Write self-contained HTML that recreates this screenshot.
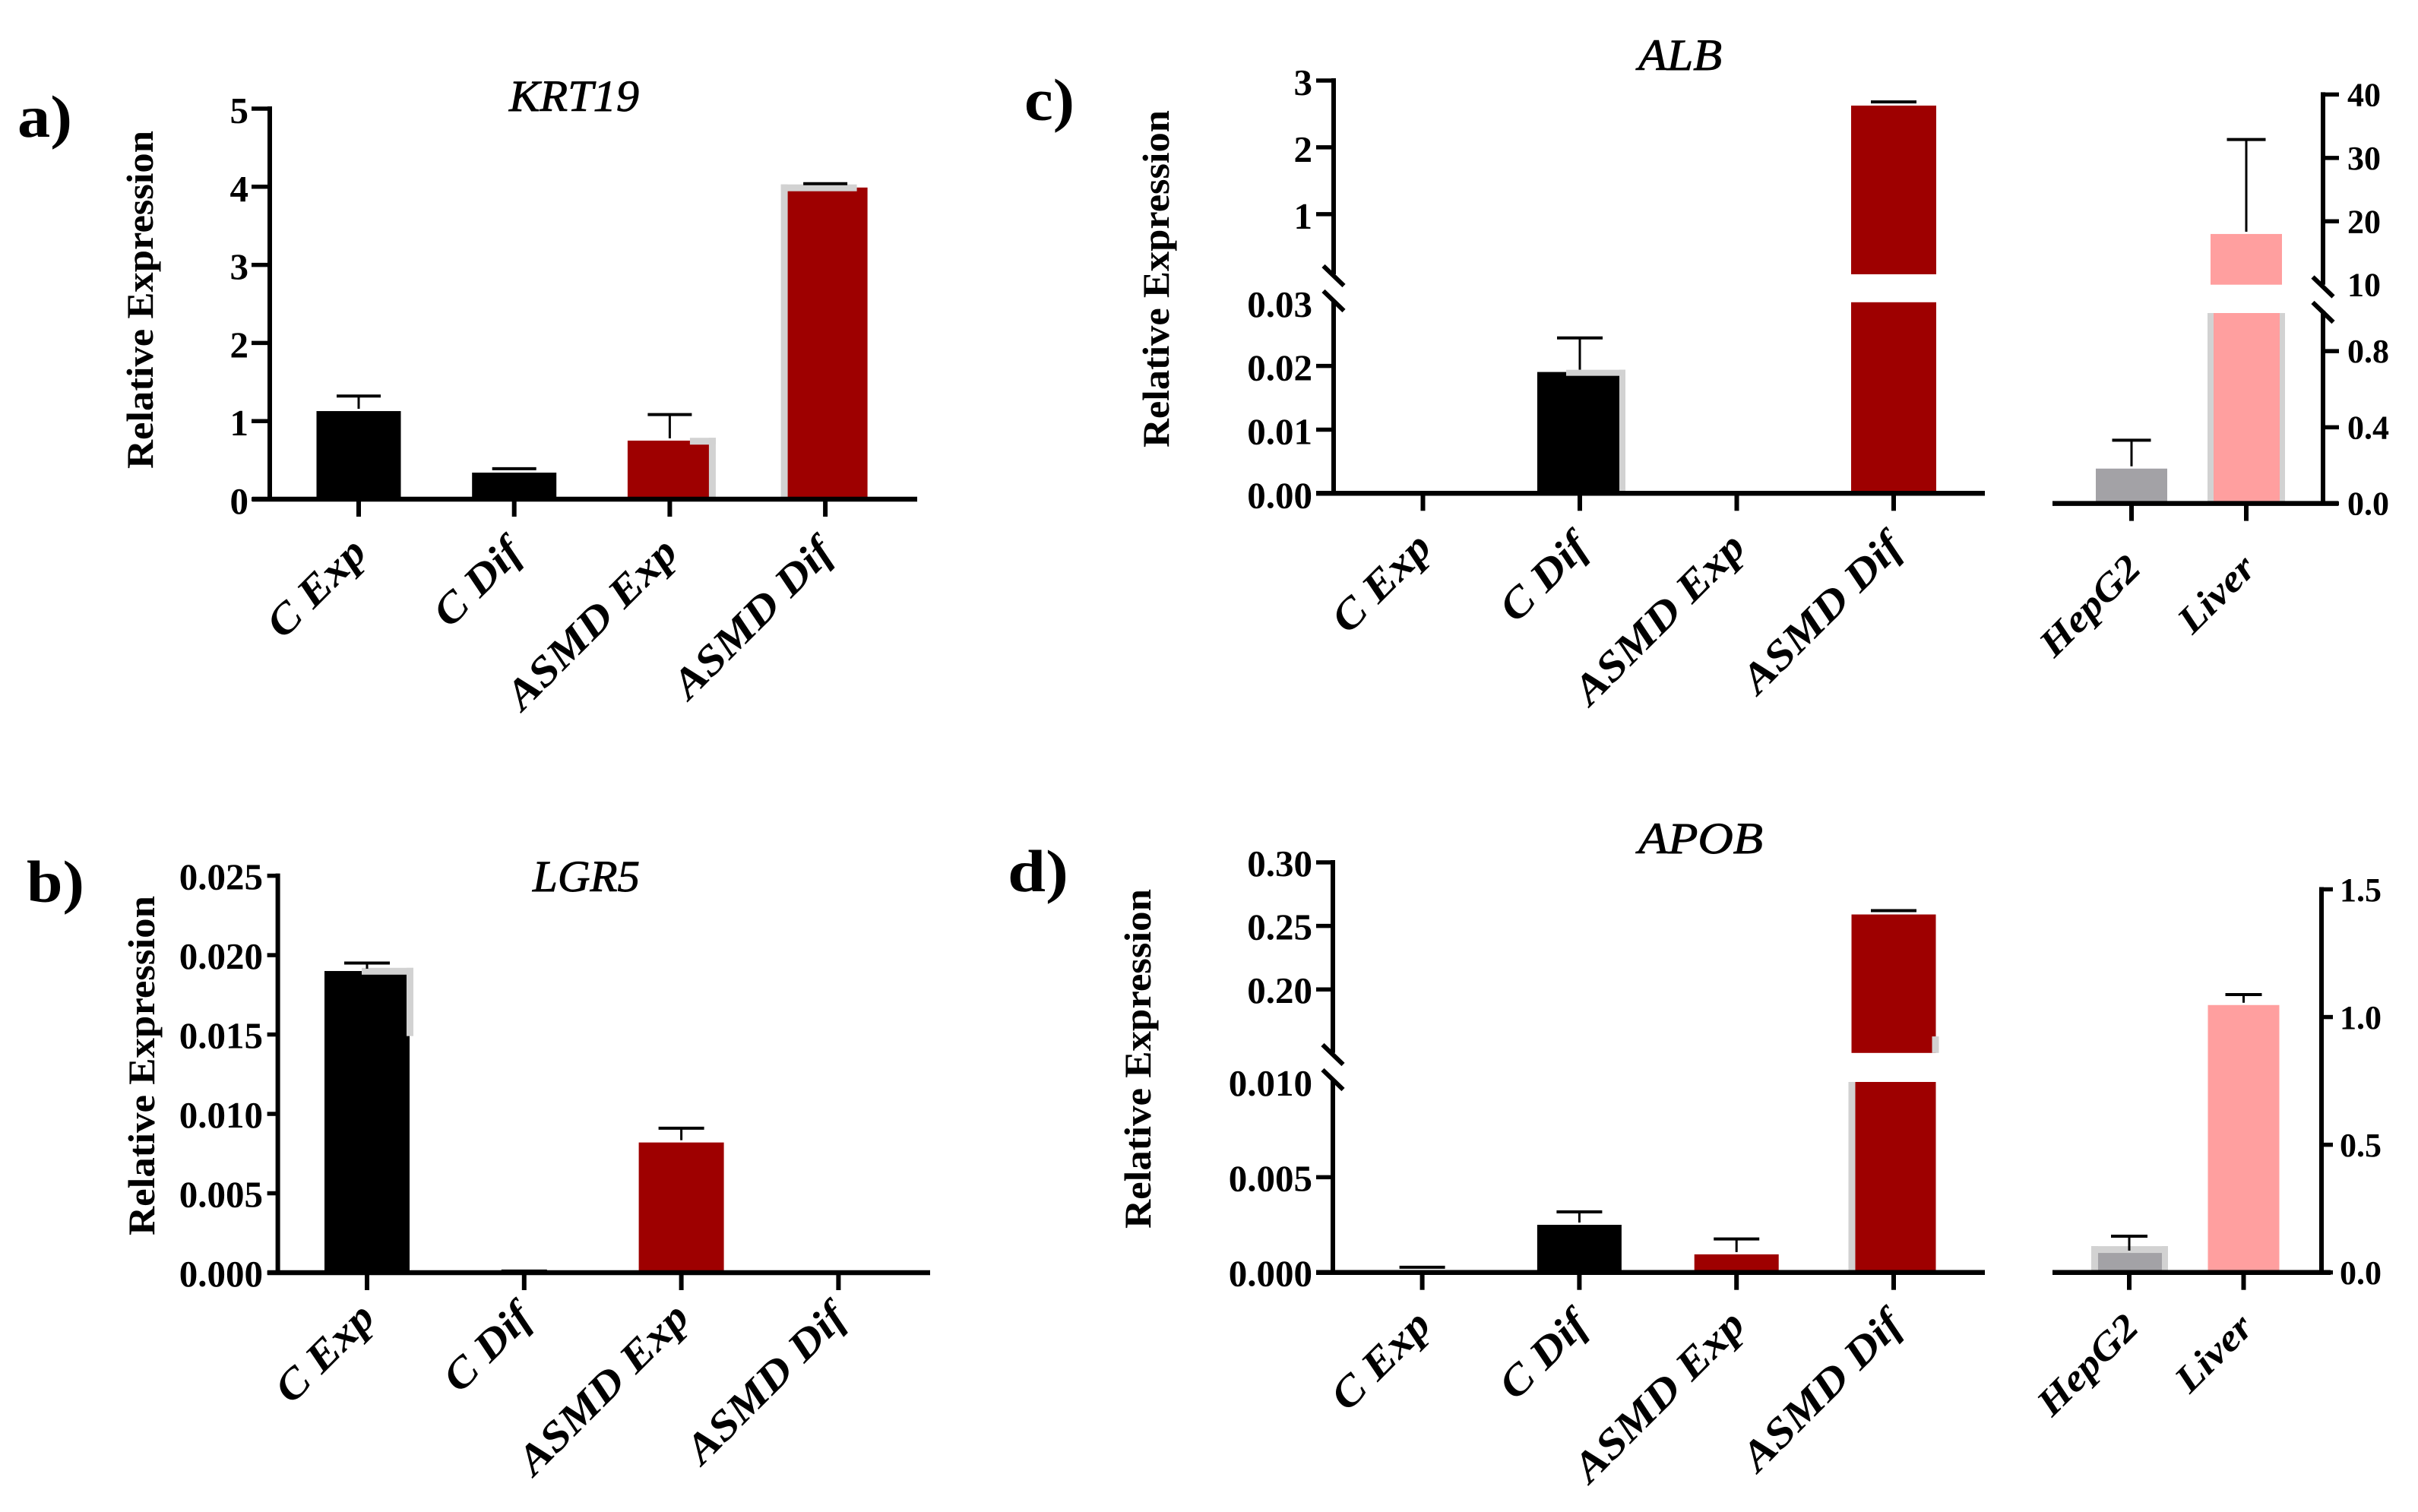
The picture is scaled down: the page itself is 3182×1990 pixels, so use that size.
<!DOCTYPE html>
<html lang="en">
<head>
<meta charset="utf-8">
<title>Relative expression of KRT19, LGR5, ALB and APOB</title>
<style>
html,body{margin:0;padding:0;background:#fff;}
svg{display:block;}
text{font-family:"Liberation Serif",serif;fill:#000;}
</style>
</head>
<body>
<svg id="figure" xmlns="http://www.w3.org/2000/svg" width="3182" height="1990" viewBox="0 0 3182 1990"></svg>
<script>
// ---------- data ----------
const sampleCategories = ['C Exp', 'C Dif', 'ASMD Exp', 'ASMD Dif'];
const referenceCategories = ['HepG2', 'Liver'];

const krt19Values = [1.128, 0.34, 0.75, 3.99];
const krt19ErrorTops = [1.32, 0.39, 1.084, 4.04];
const krt19Ticks = [0, 1, 2, 3, 4, 5];
const krt19TickLabels = ['0', '1', '2', '3', '4', '5'];
const krt19Halo = [null, null, 0.786, 4.03];

const lgr5Values = [0.019, 0.00005, 0.0082, 0];
const lgr5ErrorTops = [0.0195, 0.0001, 0.0091, 0];
const lgr5Ticks = [0, 0.005, 0.01, 0.015, 0.02, 0.025];
const lgr5TickLabels = ['0.000', '0.005', '0.010', '0.015', '0.020', '0.025'];
const lgr5Halo = [0.0192, null, null, null];

const albValues = [0, 0.01905, 0, 2.625];
const albErrorTops = [0, 0.0244, 0, 2.68];
const albTicks = [0, 0.01, 0.02, 0.03, 1, 2, 3];
const albTickLabels = ['0.00', '0.01', '0.02', '0.03', '1', '2', '3'];
const albHalo = [null, 0.0194, null, null];
const albRefValues = [0.183, 18];
const albRefErrorTops = [0.332, 32.9];
const albRefTicks = [0, 0.4, 0.8, 10, 20, 30, 40];
const albRefTickLabels = ['0.0', '0.4', '0.8', '10', '20', '30', '40'];

const apobValues = [0.0001, 0.0025, 0.00095, 0.259];
const apobErrorTops = [0.00027, 0.00318, 0.00176, 0.262];
const apobTicks = [0, 0.005, 0.01, 0.2, 0.25, 0.3];
const apobTickLabels = ['0.000', '0.005', '0.010', '0.20', '0.25', '0.30'];
const apobRefValues = [0.0765, 1.047];
const apobRefErrorTops = [0.142, 1.088];
const apobRefTicks = [0, 0.5, 1, 1.5];
const apobRefTickLabels = ['0.0', '0.5', '1.0', '1.5'];
const apobRefHalo = [0.103, null];

// ---------- colours ----------
const BLACK = '#000000', RED = '#9e0000', PINK = '#ff9f9f', GREY = '#a3a2a6', HALO = '#d2d2d2';
const SVGNS = 'http://www.w3.org/2000/svg';
const root = document.getElementById('figure');

function svgEl(tag, attrs, parent) {
  const el = document.createElementNS(SVGNS, tag);
  for (const k in attrs) el.setAttribute(k, attrs[k]);
  parent.appendChild(el);
  return el;
}

// piecewise (possibly broken) linear axis
function makeAxis(segments) {
  return function (v) {
    let s = segments[segments.length - 1];
    for (const seg of segments) { if (v <= seg.d1) { s = seg; break; } }
    return s.p0 + (v - s.d0) * (s.p1 - s.p0) / (s.d1 - s.d0);
  };
}

function slug(s) { return s.toLowerCase().replace(/[^a-z0-9]+/g, '-'); }

function drawPlot(parent, cfg) {
  const y = makeAxis(cfg.segments);
  const x = function (i) { return cfg.x0 + i * cfg.step; };
  const y0 = y(0);
  const plot = { x: x, y: y, cfg: cfg, group: null };
  const g = svgEl('g', {}, parent);
  
  
  plot.group = g;

  // bars (one rectangle per axis segment)
  cfg.values.forEach(function (v, i) {
    cfg.segments.forEach(function (seg) {
      if (v <= seg.d0 && !(seg.d0 === 0 && v > 0)) return;
      const hi = Math.min(v, seg.d1);
      const top = y(hi), bot = seg.d0 === 0 ? y0 : seg.p0;
      const bar = svgEl('rect', { x: x(i) - cfg.barW / 2, y: top, width: cfg.barW, height: bot - top, fill: cfg.colors[i] }, g);
      
      
    });
  });

  // grey smudges left in the source figure
  (cfg.halos || []).forEach(function (h) {
    const left = h.side === 'right' ? x(h.i) + cfg.barW / 2 + h.out - h.w : x(h.i) - cfg.barW / 2 - h.out;
    const tp = y(h.top), bt = h.bottom === 0 ? y0 - 2 : y(h.bottom);
    const strip = svgEl('rect', { x: left, y: tp, width: h.w, height: bt - tp, fill: HALO }, g);
    
    
    if (h.len) {
      const capLeft = h.side === 'right' ? left + h.w - h.len : left;
      const capRect = svgEl('rect', { x: capLeft, y: tp, width: h.len, height: h.thick, fill: HALO }, g);
      
      
    }
  });

  // error bars
  cfg.errors.forEach(function (e, i) {
    if (!(e > 0)) return;
    const yTop = y(e), yBar = y(cfg.values[i]);
    if (yBar - yTop > 7) {
      const stem = svgEl('line', { x1: x(i), x2: x(i), y1: yTop, y2: yBar - 3, stroke: BLACK, 'stroke-width': 3 }, g);
      
      
    }
    const cap = svgEl('line', { x1: x(i) - cfg.capW / 2, x2: x(i) + cfg.capW / 2, y1: yTop, y2: yTop, stroke: BLACK, 'stroke-width': 4 }, g);
    
    
  });

  // value axis line(s)
  const side = cfg.axisSide === 'right' ? 1 : -1;
  cfg.segments.forEach(function (seg) {
    const top = seg.p1 - 3, bot = seg.d0 === 0 ? seg.p0 : seg.p0 + (cfg.breakOver || 0);
    const ax = svgEl('line', { x1: cfg.axisX, x2: cfg.axisX, y1: top, y2: bot, stroke: BLACK, 'stroke-width': 6 }, g);
    
    
  });

  // axis-break marks
  (cfg.breaks || []).forEach(function (by) {
    const br = svgEl('line', { x1: cfg.axisX - 13.5, x2: cfg.axisX + 13.5, y1: by - 13, y2: by + 13, stroke: BLACK, 'stroke-width': 6 }, g);
    
    
  });

  // value ticks + labels
  cfg.ticks.forEach(function (t, i) {
    const ty = y(t);
    const atBreak = cfg.segments.some(function (s, k) {
      return (s.d1 === t && k < cfg.segments.length - 1) || (s.d0 === t && k > 0);
    });
    if (!atBreak) {
      const tk = svgEl('line', { x1: cfg.axisX, x2: cfg.axisX + side * cfg.tickLen, y1: ty, y2: ty, stroke: BLACK, 'stroke-width': 5.5 }, g);
      
      
    }
    const lb = svgEl('text', {
      x: cfg.labelX, y: ty + cfg.labelDy,
      'text-anchor': cfg.axisSide === 'right' ? 'start' : 'end',
      'font-size': cfg.labelSize, 'font-weight': 'bold'
    }, g);
    lb.textContent = cfg.tickLabels[i];
    
    
  });

  // category baseline, ticks and labels
  const base = svgEl('line', { x1: cfg.baseX1, x2: cfg.baseX2, y1: y0, y2: y0, stroke: BLACK, 'stroke-width': 6.5 }, g);
  
  
  cfg.categories.forEach(function (c, i) {
    const tx = x(i);
    const tk = svgEl('line', { x1: tx, x2: tx, y1: y0, y2: y0 + 23, stroke: BLACK, 'stroke-width': 6 }, g);
    
    
    const ex = tx + cfg.xLabelDx, ey = y0 + cfg.xLabelDy;
    const lb = svgEl('text', {
      transform: 'translate(' + ex + ' ' + ey + ') rotate(-45) scale(1.12 1)',
      'text-anchor': 'end', 'font-size': cfg.xLabelSize, 'font-weight': 'bold', 'font-style': 'italic'
    }, g);
    lb.textContent = c;
    
    
  });
  return plot;
}

function drawHeading(letter, lx, ly, lw, gene, tx, ty, tw, ax, ay1, ay2) {
  const l = svgEl('text', { x: lx, y: ly, 'font-size': 78, 'font-weight': 'bold', textLength: lw, lengthAdjust: 'spacingAndGlyphs' }, root);
  l.textContent = letter;
  
  
  const t = svgEl('text', { x: tx, y: ty, 'font-size': 58, 'font-style': 'italic', stroke: '#000', 'stroke-width': 0.9, textLength: tw, lengthAdjust: 'spacingAndGlyphs' }, root);
  t.textContent = gene;
  
  
  const a = svgEl('text', {
    transform: 'translate(' + ax + ' ' + ay2 + ') rotate(-90)',
    'font-size': 50, 'font-weight': 'bold', textLength: ay2 - ay1, lengthAdjust: 'spacingAndGlyphs'
  }, root);
  a.textContent = 'Relative Expression';
  
  
}

const sampleColors = [BLACK, BLACK, RED, RED];
const refColors = [GREY, PINK];

// ---------- panel a ----------
drawHeading('a)', 23, 180, 72, 'KRT19', 670, 146, 171, 201, 172, 617);
drawPlot(root, {
  name: 'panel-a-krt19', categories: sampleCategories, values: krt19Values, errors: krt19ErrorTops, colors: sampleColors,
  ticks: krt19Ticks, tickLabels: krt19TickLabels,
  segments: [{ d0: 0, d1: 5, p0: 657, p1: 143 }],
  x0: 472, step: 204.7, barW: 111, capW: 58, axisX: 355, tickLen: 24, axisSide: 'left',
  labelX: 327, labelDy: 19, labelSize: 49, baseX1: 332, baseX2: 1207, xLabelDx: 13, xLabelDy: 73, xLabelSize: 55,
  halos: [
    { i: 2, side: 'right', top: krt19Halo[2], bottom: 0, out: 5, w: 9, len: 34, thick: 9 },
    { i: 3, side: 'left', top: krt19Halo[3], bottom: 0, out: 3, w: 9, len: 100, thick: 9 }
  ]
});

// ---------- panel b ----------
drawHeading('b)', 35, 1187, 76, 'LGR5', 701, 1173, 141, 203, 1179, 1626);
drawPlot(root, {
  name: 'panel-b-lgr5', categories: sampleCategories, values: lgr5Values, errors: lgr5ErrorTops, colors: sampleColors,
  ticks: lgr5Ticks, tickLabels: lgr5TickLabels,
  segments: [{ d0: 0, d1: 0.025, p0: 1675, p1: 1152.6 }],
  x0: 483, step: 206.8, barW: 112, capW: 60, axisX: 365.6, tickLen: 14, axisSide: 'left',
  labelX: 346, labelDy: 18, labelSize: 49, baseX1: 352, baseX2: 1224, xLabelDx: 13, xLabelDy: 62, xLabelSize: 55,
  halos: [
    { i: 0, side: 'right', top: lgr5Halo[0], bottom: 0.0149, out: 5, w: 9, len: 68, thick: 9 }
  ]
});

// ---------- panel c ----------
drawHeading('c)', 1348, 158, 66, 'ALB', 2156, 92, 110, 1538, 145, 589);
drawPlot(root, {
  name: 'panel-c-alb-samples', categories: sampleCategories, values: albValues, errors: albErrorTops, colors: sampleColors,
  ticks: albTicks, tickLabels: albTickLabels,
  segments: [{ d0: 0, d1: 0.03, p0: 649.3, p1: 397.8 }, { d0: 0.1, d1: 3, p0: 361, p1: 106 }],
  x0: 1872.5, step: 206.5, barW: 112, capW: 60, axisX: 1755, tickLen: 23, axisSide: 'left',
  labelX: 1727, labelDy: 19, labelSize: 49, baseX1: 1732, baseX2: 2612, xLabelDx: 14, xLabelDy: 74, xLabelSize: 55,
  breaks: [363, 396],
  halos: [
    { i: 1, side: 'right', top: albHalo[1], bottom: 0, out: 4, w: 8, len: 78, thick: 8 }
  ]
});
drawPlot(root, {
  name: 'panel-c-alb-references', categories: referenceCategories, values: albRefValues, errors: albRefErrorTops, colors: refColors,
  ticks: albRefTicks, tickLabels: albRefTickLabels,
  segments: [{ d0: 0, d1: 1, p0: 662.6, p1: 412 }, { d0: 10, d1: 40, p0: 374.7, p1: 124.4 }],
  x0: 2805, step: 151, barW: 94, capW: 51, axisX: 3057, tickLen: 21, axisSide: 'right',
  labelX: 3089, labelDy: 15, labelSize: 44, baseX1: 2701, baseX2: 3077, xLabelDx: 15, xLabelDy: 88, xLabelSize: 50,
  breaks: [377.5, 411],
  halos: [
    { i: 1, side: 'left', top: 1, bottom: 0, out: 4, w: 8, len: 0, thick: 0 },
    { i: 1, side: 'right', top: 1, bottom: 0, out: 4, w: 7, len: 0, thick: 0 }
  ]
});

// ---------- panel d ----------
drawHeading('d)', 1326, 1173, 80, 'APOB', 2156, 1123, 164, 1514, 1170, 1617);
drawPlot(root, {
  name: 'panel-d-apob-samples', categories: sampleCategories, values: apobValues, errors: apobErrorTops, colors: sampleColors,
  ticks: apobTicks, tickLabels: apobTickLabels,
  segments: [{ d0: 0, d1: 0.01, p0: 1674.7, p1: 1424 }, { d0: 0.15, d1: 0.3, p0: 1385.8, p1: 1135 }],
  x0: 1871.6, step: 206.8, barW: 111, capW: 60, axisX: 1754, tickLen: 22, axisSide: 'left',
  labelX: 1727, labelDy: 18, labelSize: 49, baseX1: 1732, baseX2: 2612, xLabelDx: 14, xLabelDy: 72, xLabelSize: 55,
  breaks: [1388, 1421],
  halos: [
    { i: 3, side: 'left', top: 0.01, bottom: 0, out: 4, w: 9, len: 0, thick: 0 },
    { i: 3, side: 'right', top: 0.163, bottom: 0.15, out: 4, w: 9, len: 0, thick: 0 }
  ]
});
drawPlot(root, {
  name: 'panel-d-apob-references', categories: referenceCategories, values: apobRefValues, errors: apobRefErrorTops, colors: refColors,
  ticks: apobRefTicks, tickLabels: apobRefTickLabels,
  segments: [{ d0: 0, d1: 1.5, p0: 1674.7, p1: 1170.5 }],
  x0: 2802, step: 150.5, barW: 94, capW: 48, axisX: 3055, tickLen: 15, axisSide: 'right',
  labelX: 3079, labelDy: 15.5, labelSize: 44, baseX1: 2701, baseX2: 3067, xLabelDx: 15, xLabelDy: 75, xLabelSize: 50,
  halos: [
    { i: 0, side: 'left', top: apobRefHalo[0], bottom: 0, out: 3, w: 9, len: 101, thick: 9 },
    { i: 0, side: 'right', top: apobRefHalo[0], bottom: 0, out: 4, w: 8, len: 0, thick: 0 }
  ]
});
</script>
</body>
</html>
